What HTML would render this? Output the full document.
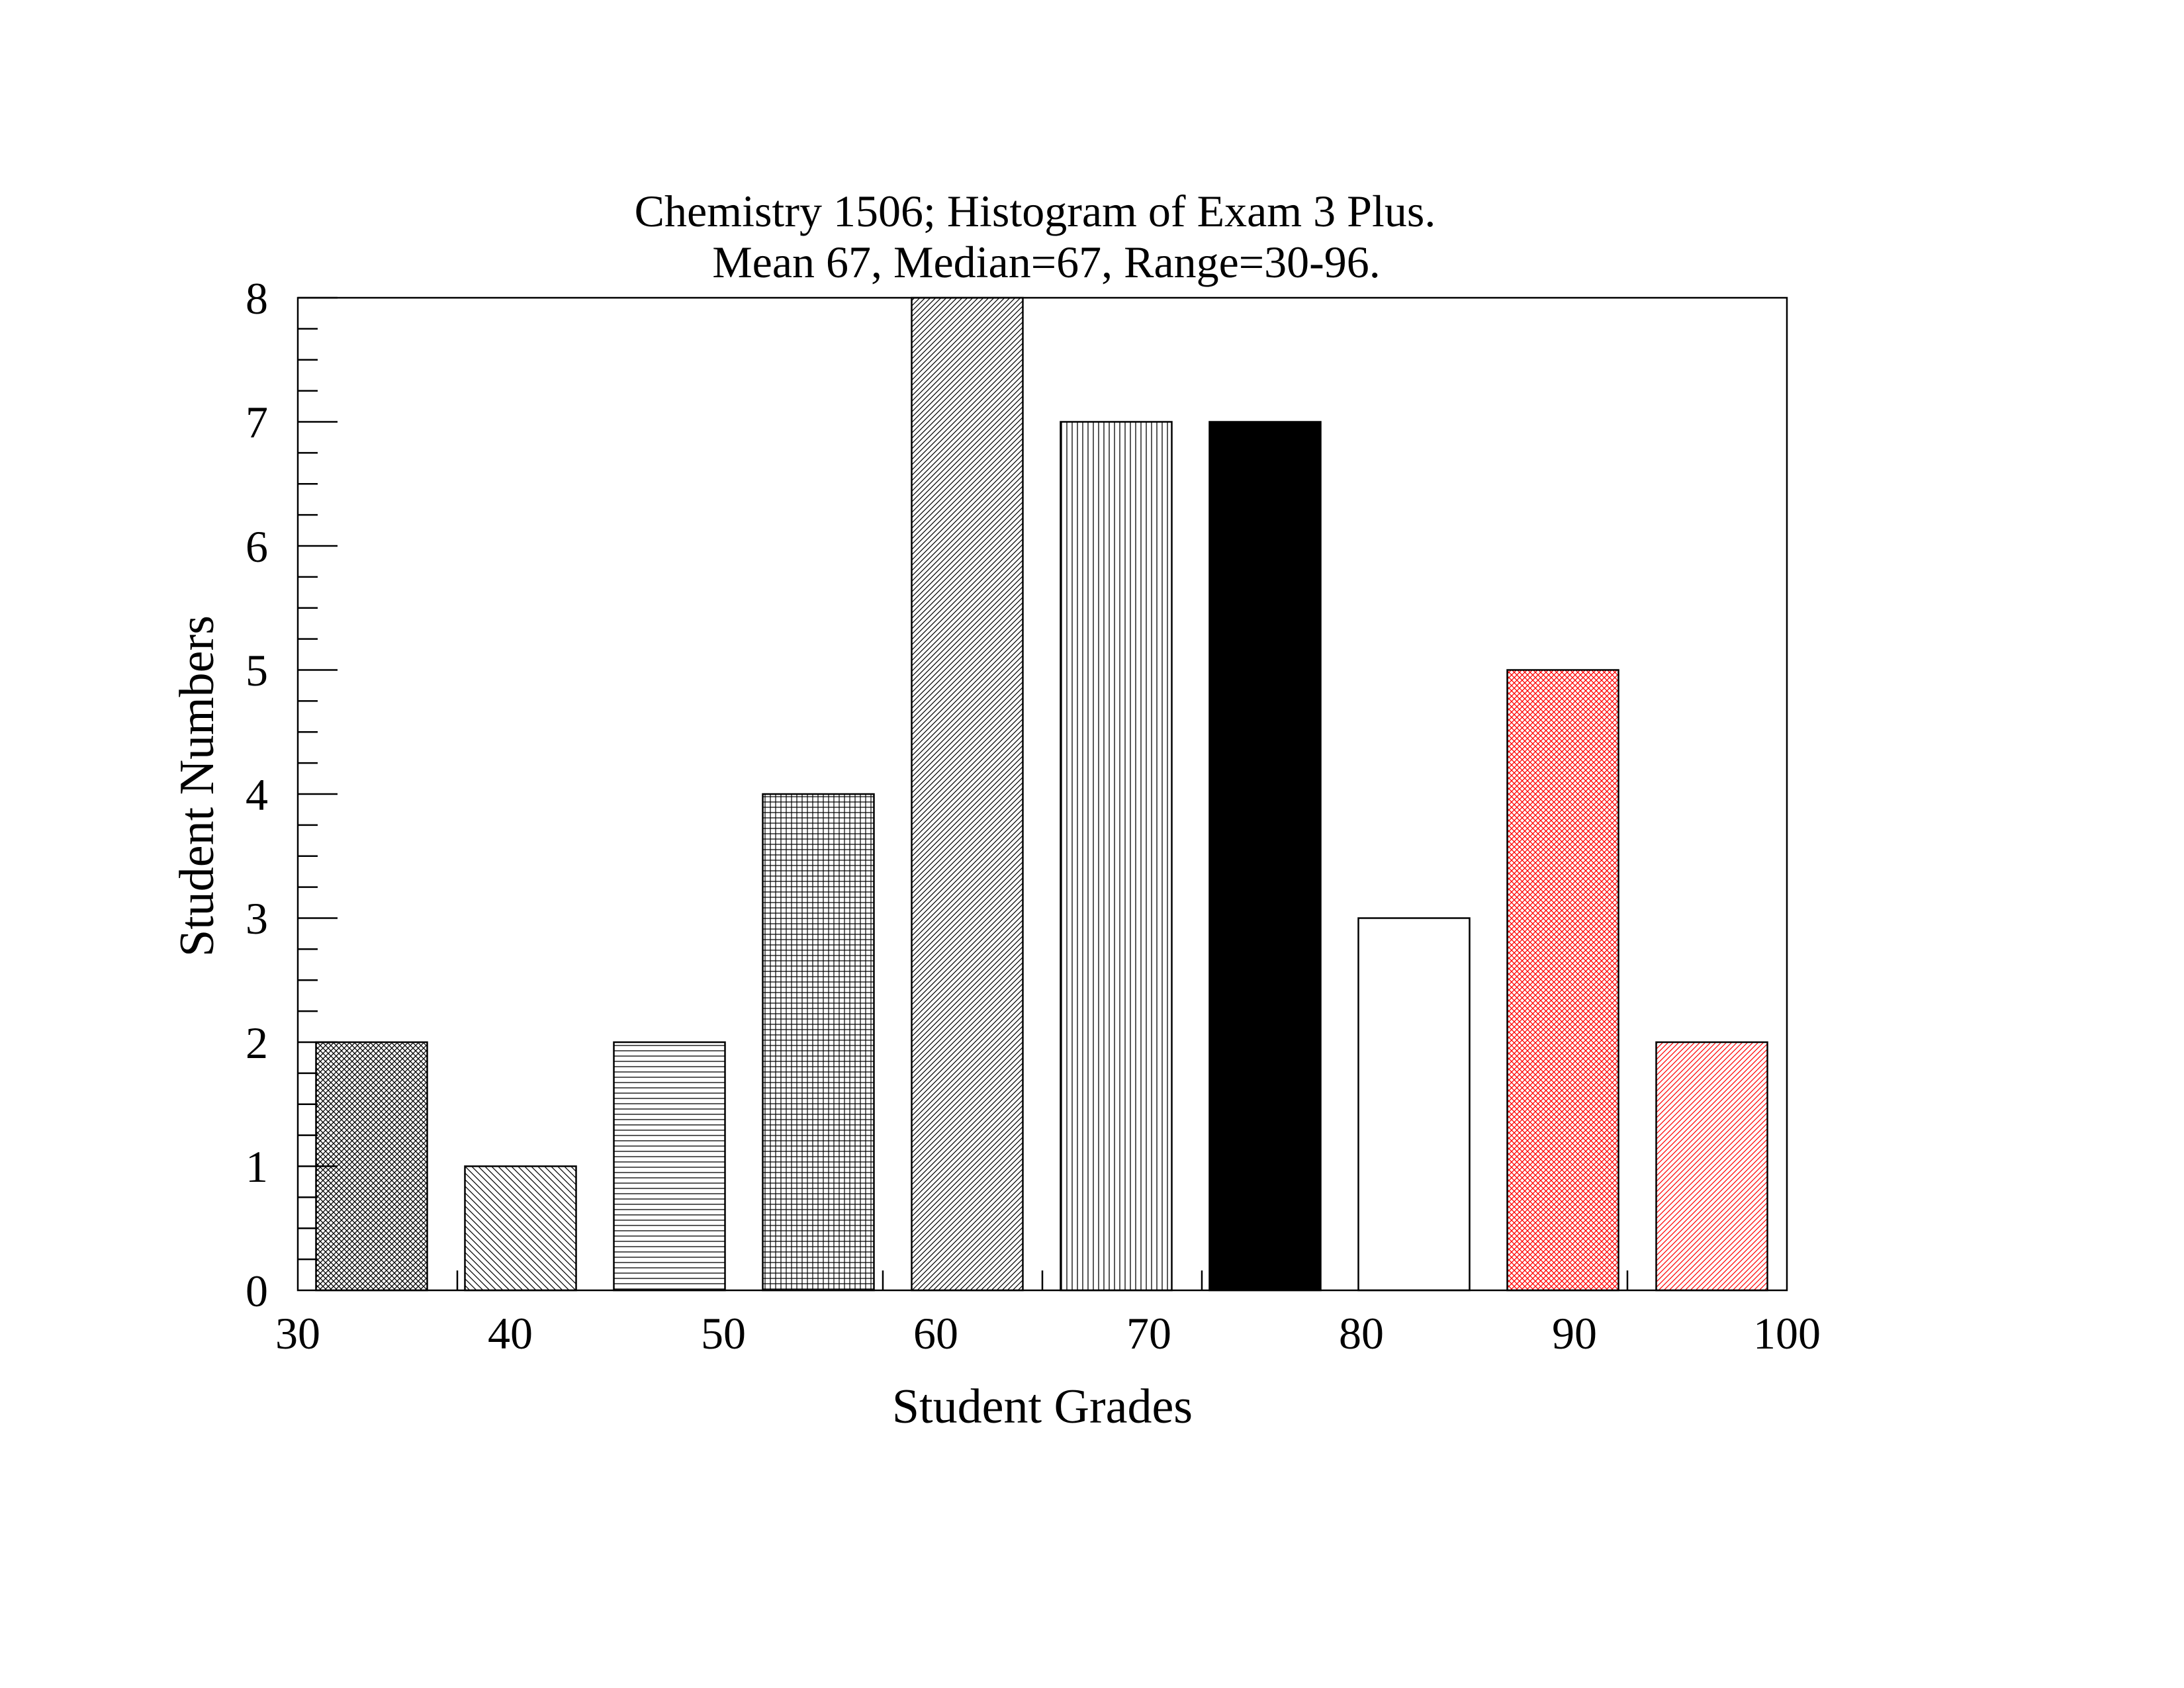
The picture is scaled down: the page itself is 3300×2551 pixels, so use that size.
<!DOCTYPE html>
<html><head><meta charset="utf-8"><style>html,body{margin:0;padding:0;background:#fff}svg{display:block}</style></head>
<body>
<svg width="3300" height="2551" viewBox="0 0 3300 2551" xmlns="http://www.w3.org/2000/svg" font-family="Liberation Serif, serif">
<defs>
<pattern id="p1" width="8" height="8" patternUnits="userSpaceOnUse"><path d="M0,8 L8,0 M-2,2 L2,-2 M6,10 L10,6 M0,0 L8,8 M-2,6 L2,10 M6,-2 L10,2" stroke="#000" stroke-width="1.3"/></pattern>
<pattern id="p2" width="10" height="10" patternUnits="userSpaceOnUse"><path d="M0,0 L10,10 M-2,8 L2,12 M8,-2 L12,2" stroke="#000" stroke-width="1.2"/></pattern>
<pattern id="p3" width="8" height="8" patternUnits="userSpaceOnUse"><path d="M0,4 H8" stroke="#000" stroke-width="1.3"/></pattern>
<pattern id="p4" width="8" height="8" patternUnits="userSpaceOnUse"><path d="M0,4 H8 M4,0 V8" stroke="#000" stroke-width="1.2"/></pattern>
<pattern id="p5" width="8" height="8" patternUnits="userSpaceOnUse"><path d="M0,8 L8,0 M-2,2 L2,-2 M6,10 L10,6" stroke="#000" stroke-width="1.2"/></pattern>
<pattern id="p6" width="8" height="8" patternUnits="userSpaceOnUse"><path d="M4,0 V8" stroke="#000" stroke-width="1.3"/></pattern>
<pattern id="p9" width="8" height="8" patternUnits="userSpaceOnUse"><path d="M0,8 L8,0 M-2,2 L2,-2 M6,10 L10,6 M0,0 L8,8 M-2,6 L2,10 M6,-2 L10,2" stroke="#f00" stroke-width="1.3"/></pattern>
<pattern id="p10" width="8" height="8" patternUnits="userSpaceOnUse"><path d="M0,8 L8,0 M-2,2 L2,-2 M6,10 L10,6" stroke="#f00" stroke-width="1.2"/></pattern>
</defs>
<g font-size="68" text-anchor="middle">
<text x="1564" y="342">Chemistry 1506; Histogram of Exam 3 Plus.</text>
<text x="1581" y="419">Mean 67, Median=67, Range=30-96.</text>
</g>
<g stroke="#000" stroke-width="2.5">
<rect x="477.5" y="1575" width="168" height="375" fill="url(#p1)"/>
<rect x="702.5" y="1762.5" width="168" height="187.5" fill="url(#p2)"/>
<rect x="927.5" y="1575" width="168" height="375" fill="url(#p3)"/>
<rect x="1152.5" y="1200" width="168" height="750" fill="url(#p4)"/>
<rect x="1377.5" y="450" width="168" height="1500" fill="url(#p5)"/>
<rect x="1602.5" y="637.5" width="168" height="1312.5" fill="url(#p6)"/>
<rect x="1827.5" y="637.5" width="168" height="1312.5" fill="#000"/>
<rect x="2052.5" y="1387.5" width="168" height="562.5" fill="#fff"/>
<rect x="2277.5" y="1012.5" width="168" height="937.5" fill="url(#p9)"/>
<rect x="2502.5" y="1575" width="168" height="375" fill="url(#p10)"/>
</g>
<rect x="450" y="450" width="2250" height="1500" fill="none" stroke="#000" stroke-width="2.5"/>
<g stroke="#000" stroke-width="2.5">
<path d="M450,450 h60 M450,637.5 h60 M450,825 h60 M450,1012.5 h60 M450,1200 h60 M450,1387.5 h60 M450,1575 h60 M450,1762.5 h60"/>
<path d="M450,496.9 h30 M450,543.75 h30 M450,590.6 h30 M450,684.4 h30 M450,731.25 h30 M450,778.1 h30 M450,871.9 h30 M450,918.75 h30 M450,965.6 h30 M450,1059.4 h30 M450,1106.25 h30 M450,1153.1 h30 M450,1246.9 h30 M450,1293.75 h30 M450,1340.6 h30 M450,1434.4 h30 M450,1481.25 h30 M450,1528.1 h30 M450,1621.9 h30 M450,1668.75 h30 M450,1715.6 h30 M450,1809.4 h30 M450,1856.25 h30 M450,1903.1 h30"/>
<path d="M691,1950 v-30 M1334,1950 v-30 M1575,1950 v-30 M1816,1950 v-30 M2459,1950 v-30"/>
</g>
<g font-size="68" text-anchor="end">
<text x="405" y="474">8</text><text x="405" y="661">7</text><text x="405" y="849">6</text><text x="405" y="1036">5</text>
<text x="405" y="1224">4</text><text x="405" y="1411">3</text><text x="405" y="1599">2</text><text x="405" y="1786">1</text><text x="405" y="1974">0</text>
</g>
<g font-size="68" text-anchor="middle">
<text x="450" y="2038">30</text><text x="771" y="2038">40</text><text x="1093" y="2038">50</text><text x="1414" y="2038">60</text>
<text x="1736" y="2038">70</text><text x="2057" y="2038">80</text><text x="2379" y="2038">90</text><text x="2700" y="2038">100</text>
</g>
<text x="1575" y="2150" font-size="74" text-anchor="middle">Student Grades</text>
<text transform="translate(322,1188) rotate(-90)" font-size="74" text-anchor="middle">Student Numbers</text>
</svg>
</body></html>
